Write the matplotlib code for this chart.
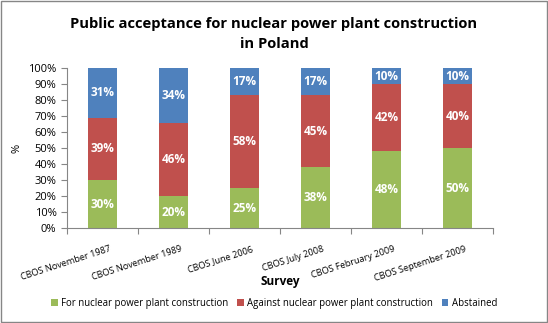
import numpy as np
import matplotlib.pyplot as plt
import matplotlib.transforms as mtransforms
from matplotlib.ticker import PercentFormatter

surveys = ["CBOS November 1987", "CBOS November 1989", "CBOS June 2006",
           "CBOS July 2008", "CBOS February 2009", "CBOS September 2009"]
for_np = [30, 20, 25, 38, 48, 50]
against_np = [39, 46, 58, 45, 42, 40]
abstained = [31, 34, 17, 17, 10, 10]

series = [("For nuclear power plant construction", for_np, "#9BBB59"),
          ("Against nuclear power plant construction", against_np, "#C0504D"),
          ("Abstained", abstained, "#4F81BD")]

plt.rcParams['font.family'] = ['Open Sans', 'DejaVu Sans']

fig = plt.figure(figsize=(5.48, 3.23), dpi=100)
ax = fig.add_axes([0.122, 0.294, 0.778, 0.495])

x = np.arange(len(surveys))
bottom = np.zeros(len(surveys))
for name, vals, col in series:
    vals = np.array(vals, dtype=float)
    ax.bar(x, vals, 0.4, bottom=bottom, color=col, label=name)
    for xi, b, v in zip(x, bottom, vals):
        ax.text(xi, b + v / 2, "%d%%" % v, ha='center', va='center',
                color='white', fontsize=8.5, fontweight='bold')
    bottom += vals

ax.set_xlim(-0.5, len(surveys) - 0.5)
ax.set_ylim(0, 100)
ax.set_yticks(np.arange(0, 101, 10))
ax.yaxis.set_major_formatter(PercentFormatter(decimals=0))
ax.set_xticks(np.arange(-0.5, len(surveys), 1.0))
ax.set_xticklabels([])
ax.set_xticks(x, minor=True)
ax.set_xticklabels(surveys, minor=True, rotation=18, ha='right',
                   rotation_mode='anchor', fontsize=6.6)
ax.tick_params(axis='x', which='minor', length=0, pad=12)
ax.tick_params(axis='x', which='major', length=4, color='#868686')
ax.tick_params(axis='y', length=4, color='#868686', labelsize=8)
shift = mtransforms.ScaledTranslation(7 / 100, 0, fig.dpi_scale_trans)
for lab in ax.get_xticklabels(minor=True):
    lab.set_transform(lab.get_transform() + shift)
for s in ['top', 'right']:
    ax.spines[s].set_visible(False)
for s in ['left', 'bottom']:
    ax.spines[s].set_color('#868686')

ax.set_ylabel("%", fontsize=8)
ax.set_xlabel("Survey", fontsize=8.5, fontweight='bold')
ax.xaxis.set_label_coords(0.5, -0.295)
fig.suptitle("Public acceptance for nuclear power plant construction\nin Poland",
             fontsize=10.6, fontweight='bold', y=0.948, linespacing=1.6)

fig.legend(loc='lower center', ncol=3, frameon=False, fontsize=6.9,
           bbox_to_anchor=(0.5, 0.018), handlelength=0.7, handleheight=0.7,
           columnspacing=0.9, handletextpad=0.35)

fig.patches.append(plt.Rectangle((0.001, 0.002), 0.997, 0.995, transform=fig.transFigure,
                                 fill=False, edgecolor='#868686', linewidth=1))
fig.savefig("out.png", dpi=100)
